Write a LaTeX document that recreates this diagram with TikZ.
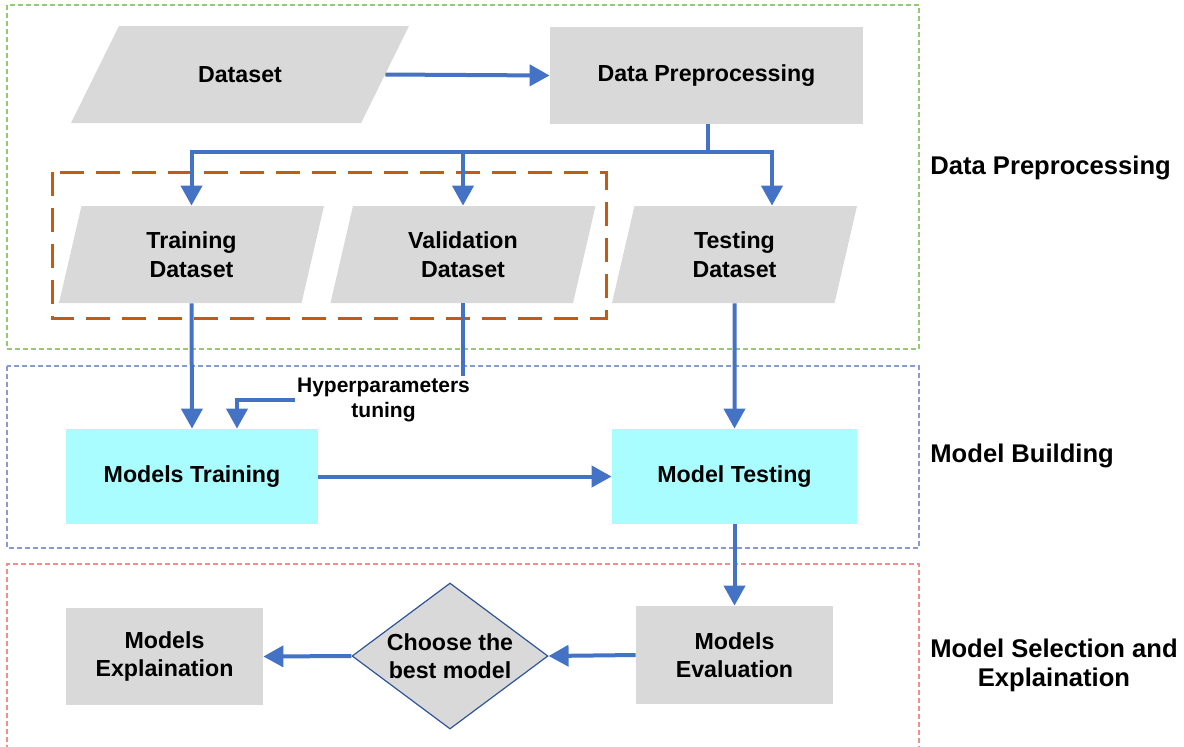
\documentclass[tikz,border=0pt]{standalone}
\usepackage{fontspec}
\setmainfont{Liberation Sans}
\usetikzlibrary{shapes.geometric,arrows.meta}
\definecolor{boxgray}{RGB}{217,217,217}
\definecolor{boxcyan}{RGB}{170,253,255}
\definecolor{linkblue}{RGB}{68,114,196}
\definecolor{splitorange}{RGB}{197,90,17}
\definecolor{diamondblue}{RGB}{47,85,151}
\definecolor{framegreen}{RGB}{150,200,120}
\definecolor{frameblue}{RGB}{135,155,210}
\definecolor{framered}{RGB}{245,140,140}

\begin{document}
\begin{tikzpicture}[x=0.5pt, y=-0.5pt, every node/.style={font=\bfseries\fontsize{11.6}{14.2}\selectfont}]
  \tikzstyle{box}=[rectangle,fill=boxgray,inner sep=0pt,align=center]
  \tikzstyle{io}=[trapezium,trapezium left angle=63.7,trapezium right angle=116.3,trapezium stretches body,fill=boxgray,inner sep=0pt,minimum height=48.5pt,align=center]
  \tikzstyle{model}=[box,fill=boxcyan,minimum height=47.5pt]
  \tikzstyle{choice}=[diamond,aspect=1.34,fill=boxgray,draw=diamondblue,line width=0.6pt,inner sep=0pt,minimum width=98pt,minimum height=73pt,align=center]
  \tikzstyle{link}=[linkblue,line width=2pt]
  \tikzstyle{arrow}=[link,-{Triangle[width=10.5pt,length=10pt]}]
  \tikzstyle{frame}=[line width=0.6pt,dash pattern=on 2.5pt off 1.5pt]
  \tikzstyle{stage}=[font=\bfseries\fontsize{12.8}{14.5}\selectfont,align=center,inner sep=0pt]

  \useasboundingbox (0,0) rectangle (1184,746);
  % stage frames
  \draw[frame,framegreen] (7,5) rectangle (919,349);
  \draw[frame,frameblue] (7,366) rectangle (919,548);
  \draw[frame,framered] (7,750) |- (919,564) -- (919,750);
  \draw[splitorange,line width=1.5pt,dash pattern=on 12pt off 6pt] (52,172) rectangle (606,318);

  \node[io,minimum width=169pt,text height=28.4pt,text depth=20.1pt] (dataset) at (240,74.5) {Dataset};
  \node[box,minimum width=156.5pt,minimum height=48.5pt] (prep) at (706.5,75.5) {Data Preprocessing};
  \node[io,minimum width=132.5pt] (train) at (191.5,254.5) {Training\\Dataset};
  \node[io,minimum width=132.5pt] (valid) at (463,254.5) {Validation\\Dataset};
  \node[io,minimum width=122.5pt] (test) at (734.5,254.5) {Testing\\Dataset};
  \node[model,minimum width=126pt] (fit) at (192,476.5) {Models Training};
  \node[model,minimum width=122.5pt] (eval) at (734.5,476.5) {Model Testing};
  \node[box,minimum width=98.5pt,minimum height=49pt] (score) at (734.5,655) {Models\\Evaluation};
  \node[choice] (choose) at (450,656) {Choose the\\best model};
  \node[box,minimum width=98.5pt,minimum height=48.5pt] (explain) at (164.5,656.5) {Models\\Explaination};
  \node[font=\bfseries\fontsize{10.5}{12.5}\selectfont,align=center,inner sep=1pt] (tune) at (383.5,400) {Hyperparameters\\tuning};

  \coordinate (split) at (708,152);
  \draw[arrow] (dataset.east) -- (prep.west);
  \draw[link] (prep.south -| split) -- (split);
  \draw[arrow] (split) -| (train.north);
  \draw[arrow] (split) -| (valid.north);
  \draw[arrow] (split) -| ([xshift=18.75pt]test.north);
  \draw[arrow] (train.south) -- (fit.north);
  \draw[link] (valid.south) -- (valid.south |- tune.north);
  \draw[arrow] (tune.west) -| ([xshift=22.5pt]fit.north);
  \draw[arrow] (test.south) -- (eval.north);
  \draw[arrow] (fit.east) -- (eval.west);
  \draw[arrow] (eval.south) -- (score.north);
  \draw[arrow] (score.west) -- (choose.east);
  \draw[arrow] (choose.west) -- (explain.east);

  \node[stage,anchor=west] (lblprep) at (930,168) {Data Preprocessing};
  \node[stage,anchor=west] (lblbuild) at (930,456) {Model Building};
  \node[stage] (lblselect) at (1054,665) {Model Selection and\\Explaination};
\end{tikzpicture}
\end{document}
